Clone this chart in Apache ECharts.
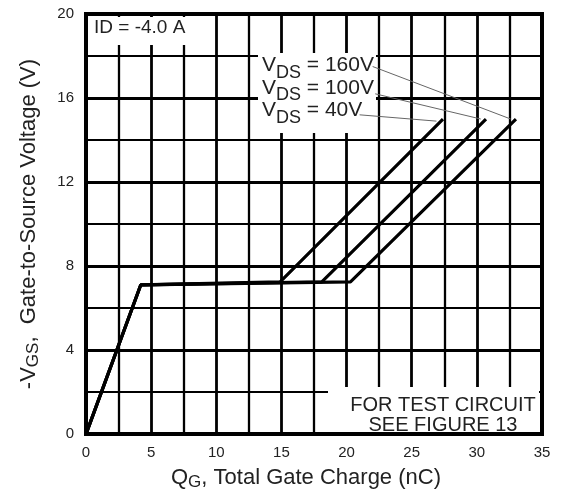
<!DOCTYPE html>
<html><head><meta charset="utf-8">
<script src="https://cdn.jsdelivr.net/npm/echarts@6/dist/echarts.min.js"></script>
<style>html,body{margin:0;padding:0;background:#fff}#c{width:563px;height:496px}</style>
</head><body><div id="c"></div>
<script>
// Data (QG in nC, -VGS in V)
const qg40 = [0, 4.2, 14.9, 27.4];
const vgs40 = [0, 7.1, 7.25, 15.0];
const qg100 = [0, 4.2, 18.1, 30.7];
const vgs100 = [0, 7.1, 7.25, 15.0];
const qg160 = [0, 4.2, 20.3, 33.0];
const vgs160 = [0, 7.1, 7.25, 15.0];
// leader lines from labels to curve ends
const lead40 = [[21.0, 15.2], [26.9, 14.9]];
const lead100 = [[22.2, 16.2], [30.3, 15.0]];
const lead160 = [[22.0, 17.5], [32.6, 15.0]];
const xTicks = [0, 5, 10, 15, 20, 25, 30, 35];
const yTicks = [0, 4, 8, 12, 16, 20];

const zip = (a, b) => a.map((v, i) => [v, b[i]]);
const font = 'Liberation Sans, Arial, sans-serif';
const chart = echarts.init(document.getElementById('c'));
const curve = (name, d) => ({
  name, type: 'line', data: d, symbol: 'none', silent: true, z: 10,
  lineStyle: { color: '#000', width: 3.2 }
});
const lead = d => ({
  type: 'line', data: d, symbol: 'none', silent: true, z: 12,
  lineStyle: { color: '#666', width: 1 }
});
chart.setOption({
  animation: false,
  grid: { left: 86, right: 21, top: 14, bottom: 58, show: true, borderColor: '#000', borderWidth: 4, z: 20 },
  xAxis: {
    type: 'value', min: 0, max: 35, interval: 5,
    name: '{q|Q}{s|G}{t|, Total Gate Charge (nC)}',
    nameLocation: 'middle', nameGap: 31,
    nameTextStyle: { padding: [0, 16, 0, 0], rich: {
      q: { fontFamily: font, fontSize: 22, color: '#222', lineHeight: 24 },
      s: { fontFamily: font, fontSize: 17, color: '#222', padding: [9, 0, 0, 0], lineHeight: 24 },
      t: { fontFamily: font, fontSize: 22, color: '#222', lineHeight: 24 } } },
    axisLine: { show: false }, axisTick: { show: false },
    axisLabel: { fontFamily: font, fontSize: 15, color: '#222', margin: 11,
      formatter: v => xTicks.includes(v) ? String(v) : '' },
    splitLine: { show: true, lineStyle: { color: '#000', width: 2.8 } },
    minorTick: { show: false, splitNumber: 2 },
    minorSplitLine: { show: true, lineStyle: { color: '#000', width: 2.3 } }
  },
  yAxis: {
    type: 'value', min: 0, max: 20, interval: 4,
    name: '{t|-V}{s|GS}{t|,  Gate-to-Source Voltage (V)}',
    nameLocation: 'middle', nameGap: 45, nameRotate: 90,
    nameTextStyle: { rich: {
      s: { fontFamily: font, fontSize: 17, color: '#222', padding: [9, 0, 0, 0], lineHeight: 24 },
      t: { fontFamily: font, fontSize: 22, color: '#222', lineHeight: 24 } } },
    axisLine: { show: false }, axisTick: { show: false },
    axisLabel: { fontFamily: font, fontSize: 15, color: '#222', margin: 12,
      formatter: v => yTicks.includes(v) ? String(v) : '' },
    splitLine: { show: true, lineStyle: { color: '#000', width: 2.8 } },
    minorTick: { show: false, splitNumber: 2 },
    minorSplitLine: { show: true, lineStyle: { color: '#000', width: 2 } }
  },
  series: [
    curve('VDS = 40V', zip(qg40, vgs40)),
    curve('VDS = 100V', zip(qg100, vgs100)),
    curve('VDS = 160V', zip(qg160, vgs160)),
    lead(lead40), lead(lead100), lead(lead160)
  ],
  graphic: [
    { type: 'rect', z: 5, shape: { x: 89, y: 17, width: 108, height: 28 }, style: { fill: '#fff' } },
    { type: 'text', z: 6, left: 94, top: 18, style: { text: 'ID = -4.0 A', font: '19px ' + font, fill: '#222' } },
    { type: 'rect', z: 5, shape: { x: 258, y: 53, width: 118, height: 80 }, style: { fill: '#fff' } },
    { type: 'text', z: 6, left: 262, top: 55, style: {
      text: '{v|V}{s|DS}{v| = 160V}\n{v|V}{s|DS}{v| = 100V}\n{v|V}{s|DS}{v| = 40V}',
      rich: {
        v: { font: '21px ' + font, fill: '#222', lineHeight: 22.5, verticalAlign: 'top' },
        s: { font: '18px ' + font, fill: '#222', lineHeight: 22.5, padding: [9, 0, 0, 0], verticalAlign: 'top' }
      } } },
    { type: 'rect', z: 5, shape: { x: 328, y: 387, width: 211, height: 49 }, style: { fill: '#fff' } },
    { type: 'text', z: 6, x: 443, y: 395, style: {
      text: 'FOR TEST CIRCUIT\nSEE FIGURE 13', align: 'center', verticalAlign: 'top',
      font: '20px ' + font, fill: '#222', lineHeight: 20 } }
  ]
});
</script></body></html>
